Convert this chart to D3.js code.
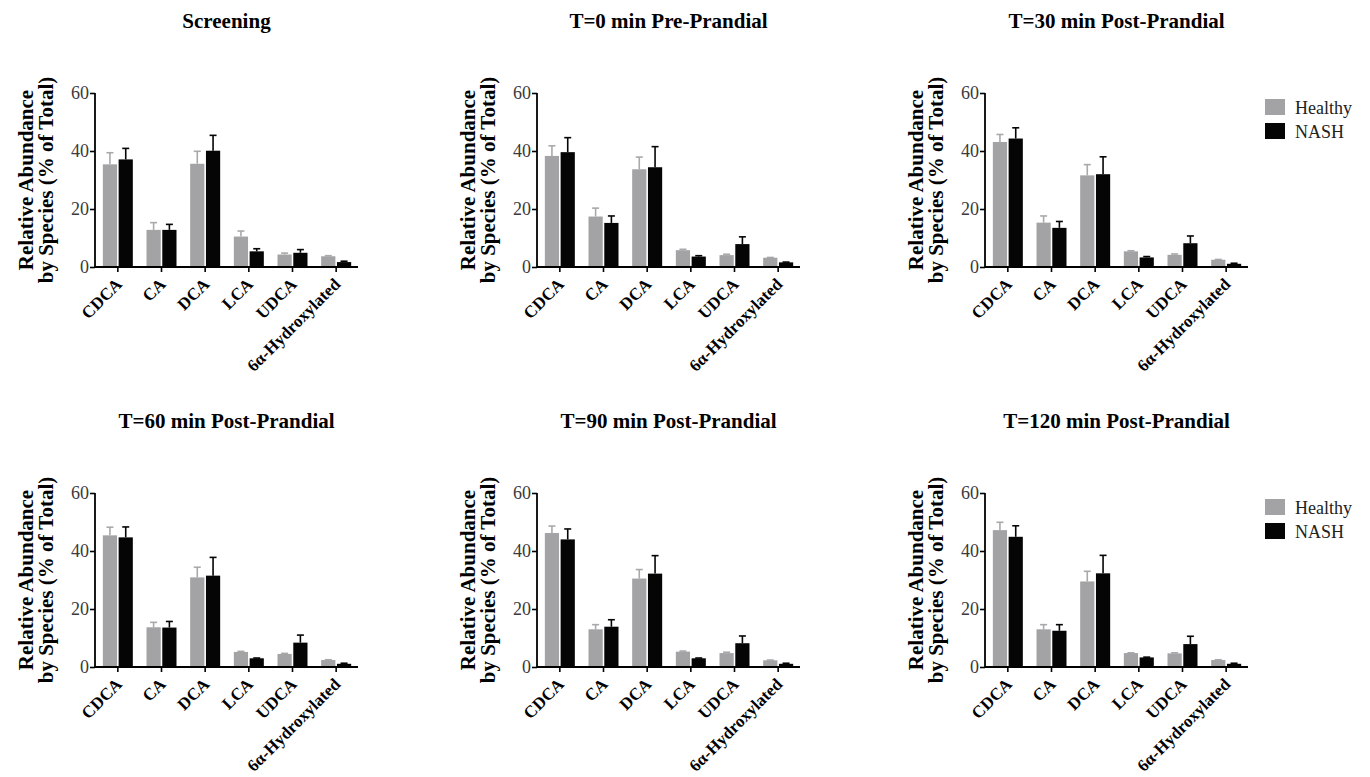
<!DOCTYPE html>
<html>
<head>
<meta charset="utf-8">
<script src="https://cdn.jsdelivr.net/npm/d3@7"></script>
<style>
  body { margin: 0; background: white; }
  svg { display: block; }
  text { font-family: "Liberation Serif", "Times New Roman", serif; }
</style>
</head>
<body>
<div id="chart"></div>
<script>
//constants
const width = 1370;
const height = 777;

//data
const categories = ["CDCA", "CA", "DCA", "LCA", "UDCA", "6\u03b1-Hydroxylated"];
const groups = ["Healthy", "NASH"];
const titles = ["Screening", "T=0 min Pre-Prandial", "T=30 min Post-Prandial",
  "T=60 min Post-Prandial", "T=90 min Post-Prandial", "T=120 min Post-Prandial"];
const yTicks = [0, 20, 40, 60];

//mean values, one row per panel
const healthyMean = [
  [35.4, 12.8, 35.6, 10.5, 4.3, 3.7],
  [38.3, 17.4, 33.7, 5.8, 4.1, 3.2],
  [43.1, 15.3, 31.6, 5.4, 4.2, 2.5],
  [45.4, 13.7, 30.9, 5.2, 4.5, 2.4],
  [46.2, 13.0, 30.5, 5.3, 4.8, 2.3],
  [47.2, 13.0, 29.5, 4.8, 4.7, 2.4]
];
const healthyErr = [
  [4.0, 2.5, 4.3, 1.9, 0.5, 0.2],
  [3.5, 2.9, 4.2, 0.3, 0.3, 0.1],
  [2.6, 2.3, 3.7, 0.2, 0.3, 0.1],
  [2.8, 1.7, 3.5, 0.2, 0.2, 0.1],
  [2.4, 1.6, 3.1, 0.2, 0.3, 0.1],
  [2.7, 1.6, 3.5, 0.1, 0.2, 0.1]
];
const nashMean = [
  [37.1, 12.8, 40.1, 5.4, 4.9, 1.7],
  [39.6, 15.2, 34.4, 3.6, 7.9, 1.6],
  [44.3, 13.5, 32.0, 3.3, 8.2, 1.1],
  [44.7, 13.6, 31.5, 3.0, 8.4, 1.1],
  [44.0, 13.9, 32.2, 3.0, 8.2, 1.1],
  [44.9, 12.5, 32.3, 3.3, 7.9, 1.1]
];
const nashErr = [
  [3.8, 1.9, 5.3, 0.9, 1.1, 0.3],
  [5.0, 2.4, 7.1, 0.3, 2.5, 0.1],
  [3.7, 2.2, 6.0, 0.3, 2.5, 0.2],
  [3.6, 2.1, 6.3, 0.1, 2.6, 0.2],
  [3.6, 2.4, 6.2, 0.1, 2.5, 0.2],
  [3.8, 2.1, 6.2, 0.1, 2.7, 0.2]
];

//colours
const fill = { Healthy: "#a3a3a6", NASH: "#050505" };
const errColor = { Healthy: "#a9a9ab", NASH: "#050505" };

//layout of the grid
const colX = [95, 537, 985];   //x of the y axis
const rowY = [267, 667];       //y of the zero line
const plotW = 263;
const plotH = 174;

var svg = d3.select("#chart").append("svg")
  .attr("width", width)
  .attr("height", height);

/*----------------------
PANELS
----------------------*/
for (let p = 0; p < titles.length; p++) {
  let x0 = colX[p % 3];
  let y0 = rowY[Math.floor(p / 3)];
  drawPanel(p, x0, y0);
  if (p % 3 === 2) drawLegend(x0 + plotW + 17, y0 - plotH + 6);
}

function drawPanel(p, x0, y0) {
  let g = svg.append("g");

  const x = d3.scaleBand()
    .domain(categories)
    .range([x0 + 1, x0 + plotW]);

  const xInner = d3.scaleBand()
    .domain(groups)
    .range([-15, 15])
    .paddingInner(0.1);

  const y = d3.scaleLinear()
    .domain([0, 60])
    .range([y0, y0 - plotH]);

  let rows = [];
  categories.forEach((c, i) => {
    rows.push({ cat: c, group: "Healthy", v: healthyMean[p][i], e: healthyErr[p][i] });
    rows.push({ cat: c, group: "NASH", v: nashMean[p][i], e: nashErr[p][i] });
  });

  const barMid = d => x(d.cat) + x.bandwidth() / 2 + xInner(d.group) + xInner.bandwidth() / 2;

  //error bars (upper only), drawn first so bars sit on top
  let err = g.selectAll(".err")
    .data(rows)
    .join("g")
    .attr("stroke", d => errColor[d.group])
    .attr("stroke-width", 1.6);

  err.append("line")
    .attr("x1", barMid)
    .attr("x2", barMid)
    .attr("y1", d => y(d.v))
    .attr("y2", d => y(d.v + d.e));

  err.append("line")
    .attr("x1", d => barMid(d) - 3.5)
    .attr("x2", d => barMid(d) + 3.5)
    .attr("y1", d => y(d.v + d.e))
    .attr("y2", d => y(d.v + d.e));

  //bars
  g.selectAll(".bar")
    .data(rows)
    .join("rect")
    .attr("x", d => x(d.cat) + x.bandwidth() / 2 + xInner(d.group))
    .attr("width", xInner.bandwidth())
    .attr("y", d => y(d.v))
    .attr("height", d => y0 - y(d.v))
    .attr("fill", d => fill[d.group]);

  //y axis
  let yAxis = g.append("g")
    .attr("transform", `translate(${x0},0)`)
    .call(d3.axisLeft(y).tickValues(yTicks).tickSize(5).tickFormat(""));
  yAxis.select(".domain").attr("stroke-width", 1.8).attr("d", `M0,${y0}V${y0 - plotH}`);
  yAxis.selectAll(".tick line").attr("stroke-width", 1.6);

  g.selectAll(".ylab")
    .data(yTicks)
    .join("text")
    .attr("x", x0 - 6)
    .attr("y", d => y(d))
    .attr("text-anchor", "end")
    .attr("dy", "0.35em")
    .attr("font-size", 18)
    .attr("fill", "#3a3a3a")
    .text(d => d);

  //x axis
  let xAxis = g.append("g")
    .attr("transform", `translate(0,${y0})`)
    .call(d3.axisBottom(x).tickSize(5).tickFormat(""));
  xAxis.select(".domain").attr("stroke-width", 1.8).attr("d", `M${x0},0H${x0 + plotW}`);
  xAxis.selectAll(".tick line").attr("stroke-width", 1.6);

  g.selectAll(".xlab")
    .data(categories)
    .join("text")
    .attr("transform", d => `translate(${x(d) + x.bandwidth() / 2 + 1},${y0 + 14}) rotate(-45)`)
    .attr("text-anchor", "end")
    .attr("dy", "0.35em")
    .attr("font-size", 17)
    .attr("font-weight", "bold")
    .text(d => d);

  //title
  g.append("text")
    .attr("x", x0 + plotW / 2)
    .attr("y", y0 - 239)
    .attr("text-anchor", "middle")
    .attr("font-size", 21)
    .attr("font-weight", "bold")
    .text(titles[p]);

  //y axis label, two lines
  let yc = y0 - plotH / 2;
  g.append("text")
    .attr("transform", `translate(${x0 - 62},${yc}) rotate(-90)`)
    .attr("text-anchor", "middle")
    .attr("font-size", 21)
    .attr("font-weight", "bold")
    .text("Relative Abundance");
  g.append("text")
    .attr("transform", `translate(${x0 - 42},${yc}) rotate(-90)`)
    .attr("text-anchor", "middle")
    .attr("font-size", 21)
    .attr("font-weight", "bold")
    .text("by Species (% of Total)");
}

/*----------------------
LEGEND
----------------------*/
function drawLegend(lx, ly) {
  let leg = svg.append("g").attr("transform", `translate(${lx},${ly})`);
  groups.forEach((gr, i) => {
    leg.append("rect")
      .attr("x", 0)
      .attr("y", i * 24)
      .attr("width", 20)
      .attr("height", 16)
      .attr("fill", fill[gr]);
    leg.append("text")
      .attr("x", 30)
      .attr("y", i * 24 + 15)
      .attr("font-size", 18)
      .attr("fill", "#222")
      .text(gr);
  });
}
</script>
</body>
</html>
